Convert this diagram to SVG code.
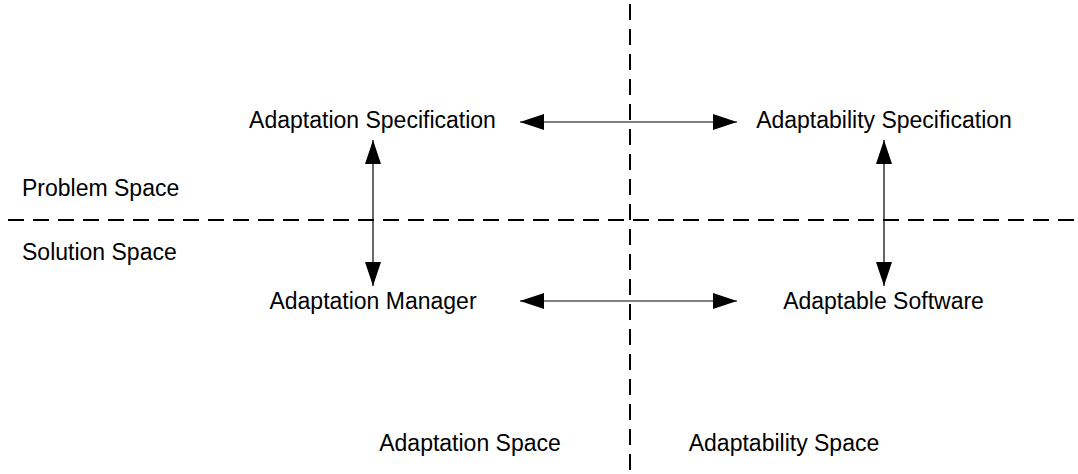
<svg xmlns="http://www.w3.org/2000/svg" width="1078" height="474" viewBox="0 0 1078 474">
<style>
text{font-family:"Liberation Sans",Arial,sans-serif;font-size:23px;fill:#000}
.dash{stroke:#000;stroke-width:2;stroke-dasharray:16 9;fill:none}
.arr{stroke:#000;stroke-width:1.2;fill:none;marker-start:url(#ah);marker-end:url(#ah)}
</style>
<defs>
<marker id="ah" viewBox="0 0 24 16" refX="24" refY="8" markerWidth="24" markerHeight="16" markerUnits="userSpaceOnUse" orient="auto-start-reverse">
<path d="M0,0 L24,8 L0,16 Z" fill="#000"/>
</marker>
</defs>
<rect width="1078" height="474" fill="#fff"/>
<g id="dividers">
<line class="dash" x1="630" y1="4" x2="630" y2="474"/>
<line class="dash" x1="8" y1="220" x2="1078" y2="220"/>
</g>
<g id="connectors">
<line class="arr" x1="520" y1="122" x2="737" y2="122"/>
<line class="arr" x1="520" y1="301" x2="737" y2="301"/>
<line class="arr" x1="373" y1="140" x2="373" y2="286"/>
<line class="arr" x1="884" y1="140" x2="884" y2="286"/>
</g>
<g id="adaptation-specification"><text x="372.5" y="128" text-anchor="middle">Adaptation Specification</text></g>
<g id="adaptability-specification"><text x="884" y="128" text-anchor="middle">Adaptability Specification</text></g>
<g id="adaptation-manager"><text x="373" y="309" text-anchor="middle">Adaptation Manager</text></g>
<g id="adaptable-software"><text x="883.5" y="309" text-anchor="middle">Adaptable Software</text></g>
<g id="problem-space"><text x="22" y="196">Problem Space</text></g>
<g id="solution-space"><text x="22" y="260">Solution Space</text></g>
<g id="adaptation-space"><text x="470" y="451" text-anchor="middle">Adaptation Space</text></g>
<g id="adaptability-space"><text x="784" y="451" text-anchor="middle">Adaptability Space</text></g>
</svg>
